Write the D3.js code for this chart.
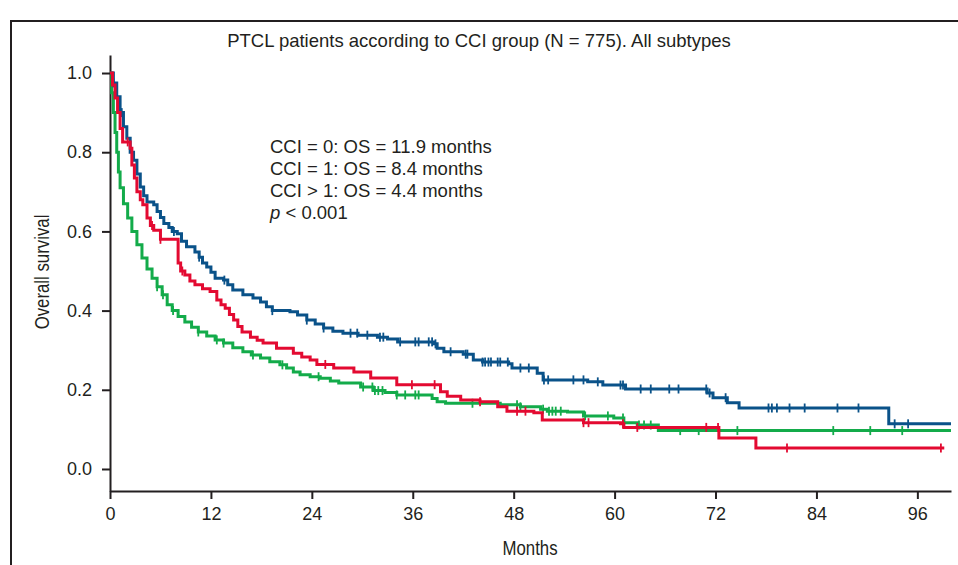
<!DOCTYPE html>
<html>
<head>
<meta charset="utf-8">
<script src="https://cdn.jsdelivr.net/npm/d3@7"></script>
<style>
  body { margin: 0; background: #fff; }
  svg { display: block; }
</style>
</head>
<body>
<div id="chart"></div>
<script>
// Kaplan-Meier steps: [month, survival]
var cci0 = [[0,1.0],[0.4,0.975],[0.8,0.94],[1.2,0.90],[1.6,0.864],[2.0,0.835],[2.4,0.80],[2.8,0.78],
  [3.2,0.745],[3.6,0.712],[4.0,0.69],[4.4,0.674],[5.2,0.667],[5.6,0.65],[6.0,0.635],[6.4,0.62],
  [7.0,0.61],[7.4,0.60],[8.0,0.594],[8.5,0.575],[9.1,0.561],[10.1,0.548],[10.6,0.535],[11.0,0.52],
  [11.5,0.51],[12.0,0.497],[12.5,0.482],[13.5,0.477],[14.0,0.465],[14.6,0.452],[15.8,0.44],
  [17.0,0.432],[17.9,0.422],[18.6,0.41],[19.3,0.40],[21.4,0.397],[22.3,0.389],[23.4,0.376],
  [24.4,0.366],[25.4,0.356],[26.5,0.348],[27.7,0.343],[29.5,0.338],[31.8,0.333],[33.0,0.328],
  [34.2,0.321],[38.5,0.316],[38.9,0.305],[39.7,0.296],[42.0,0.29],[43.2,0.275],[44.3,0.27],
  [47.4,0.266],[47.8,0.255],[50.8,0.242],[51.5,0.225],[56.8,0.22],[58.6,0.212],[61.3,0.202],
  [71.0,0.192],[71.7,0.18],[73.4,0.167],[74.8,0.154],[92.6,0.114],[100,0.114]];
var cci1 = [[0,1.0],[0.3,0.97],[0.6,0.937],[0.9,0.90],[1.2,0.86],[1.5,0.826],[2.4,0.81],[2.6,0.768],
  [2.9,0.735],[3.2,0.70],[3.6,0.68],[3.9,0.667],[4.4,0.634],[4.8,0.615],[5.2,0.603],[6.0,0.58],
  [8.1,0.52],[8.4,0.50],[8.9,0.49],[9.5,0.475],[10.1,0.465],[11.0,0.455],[11.9,0.448],[12.7,0.427],
  [13.2,0.415],[13.7,0.406],[14.2,0.39],[14.7,0.376],[15.2,0.36],[15.7,0.346],[16.7,0.333],
  [17.5,0.325],[18.2,0.318],[19.8,0.305],[21.8,0.292],[22.8,0.283],[23.8,0.275],[24.6,0.264],
  [26.6,0.255],[29.0,0.245],[31.0,0.23],[34.1,0.213],[39.3,0.195],[40.1,0.184],[41.7,0.174],
  [44.0,0.17],[46.1,0.157],[47.2,0.146],[50.4,0.142],[51.4,0.124],[56.3,0.117],[60.7,0.114],
  [61.1,0.105],[72.4,0.078],[76.8,0.053],[99.2,0.053]];
var cci2 = [[0,1.0],[0.2,0.95],[0.4,0.90],[0.6,0.85],[0.8,0.80],[1.0,0.75],[1.2,0.71],[1.6,0.67],
  [2.1,0.634],[2.6,0.60],[3.2,0.566],[3.8,0.533],[4.4,0.505],[5.0,0.482],[5.6,0.46],[6.2,0.44],
  [6.8,0.415],[7.4,0.40],[8.1,0.385],[8.9,0.371],[9.7,0.358],[10.5,0.346],[11.5,0.336],[12.5,0.326],
  [13.5,0.318],[14.6,0.306],[15.8,0.296],[16.8,0.288],[17.9,0.28],[19.0,0.271],[20.2,0.263],
  [21.0,0.255],[21.8,0.245],[22.6,0.238],[23.8,0.233],[25.0,0.229],[26.2,0.222],[27.2,0.217],
  [29.8,0.207],[31.3,0.198],[32.7,0.193],[34.1,0.187],[38.3,0.178],[38.9,0.17],[39.9,0.166],
  [46.4,0.162],[48.8,0.157],[51.2,0.151],[52.0,0.146],[54.4,0.144],[56.3,0.134],[59.9,0.129],
  [61.1,0.117],[62.7,0.111],[65.2,0.097],[100,0.097]];

// censored observations (months)
var cens0 = [0.4,1.4,7.6,10.6,13.6,19.3,23.4,25.4,28.6,29.4,30.6,32.1,32.5,34.5,36.3,36.7,37.9,38.3,
  38.7,40.5,42.3,42.5,44.3,44.6,45.0,45.3,46.1,46.4,47.3,48.8,49.8,51.6,52.1,55.1,56.3,58.0,60.7,
  61.0,63.1,64.3,66.5,67.6,70.9,71.3,73.2,78.3,78.7,79.3,80.8,82.6,86.5,89.0,93.3,94.9];
var cens1 = [2.1,5.0,6.0,8.6,25.6,35.9,38.6,44.0,48.4,49.4,56.3,56.9,61.0,62.7,70.9,72.3,80.5,98.8];
var cens2 = [5.6,6.3,7.5,10.5,12.7,13.5,17.0,20.5,24.8,30.1,31.2,31.5,31.9,32.4,34.1,35.1,36.3,36.7,
  43.1,48.4,48.8,51.5,52.2,52.6,53.0,53.6,56.5,59.2,61.0,62.9,63.5,64.3,67.8,70.0,74.6,86.0,90.4,94.2];

var xTicks = [0,12,24,36,48,60,72,84,96];
var yTicks = [0,0.2,0.4,0.6,0.8,1.0];
var notes = ["CCI = 0: OS = 11.9 months", "CCI = 1: OS = 8.4 months", "CCI > 1: OS = 4.4 months"];

var width = 958, height = 565;

var svg = d3.select("#chart").append("svg")
  .attr("width", width)
  .attr("height", height)
  .style("font-family", "'Liberation Sans', Arial, sans-serif");

// outer frame (runs off right and bottom edge)
svg.append("rect")
  .attr("x", 11).attr("y", 21)
  .attr("width", 960).attr("height", 560)
  .attr("fill", "none")
  .attr("stroke", "#231f20")
  .attr("stroke-width", 2);

svg.append("text")
  .attr("x", 479).attr("y", 47)
  .attr("text-anchor", "middle")
  .attr("font-size", 18.5)
  .attr("fill", "#231f20")
  .text("PTCL patients according to CCI group (N = 775). All subtypes");

var x = d3.scaleLinear().domain([0, 100]).range([110, 951]);
var y = d3.scaleLinear().domain([-0.0556, 1.0455]).range([491, 55]);

var xAxis = svg.append("g")
  .attr("transform", "translate(0,491)")
  .call(d3.axisBottom(x).tickValues(xTicks).tickSize(8).tickSizeOuter(0).tickPadding(8));

var yAxis = svg.append("g")
  .attr("transform", "translate(110,0)")
  .call(d3.axisLeft(y).tickValues(yTicks).tickFormat(d3.format(".1f")).tickSize(8).tickSizeOuter(0).tickPadding(10));

[xAxis, yAxis].forEach(function(g) {
  g.selectAll("path, line").attr("stroke", "#231f20").attr("stroke-width", 2);
  g.selectAll("text").attr("font-size", 18).attr("fill", "#231f20")
    .style("font-family", "'Liberation Sans', Arial, sans-serif");
});

// condensed axis titles: squeeze regular sans horizontally
svg.append("text")
  .attr("transform", "translate(530,555) scale(0.8,1)")
  .attr("text-anchor", "middle")
  .attr("font-size", 21)
  .attr("fill", "#231f20")
  .text("Months");

svg.append("text")
  .attr("transform", "translate(49,272) rotate(-90) scale(0.8,1)")
  .attr("text-anchor", "middle")
  .attr("font-size", 21)
  .attr("fill", "#231f20")
  .text("Overall survival");

// annotation
var note = svg.append("g").attr("font-size", 18.5).attr("fill", "#231f20");
notes.forEach(function(t, i) {
  note.append("text").attr("x", 270).attr("y", 153 + i * 22).text(t);
});
var pt = note.append("text").attr("x", 270).attr("y", 219);
pt.append("tspan").attr("font-style", "italic").text("p");
pt.append("tspan").text(" < 0.001");

// curves
var groups = [
  {steps: cci2, cens: cens2, color: "#13ab4a"},
  {steps: cci0, cens: cens0, color: "#0a5289"},
  {steps: cci1, cens: cens1, color: "#e30a31"}
];

var line = d3.line()
  .x(function(d) { return x(d[0]); })
  .y(function(d) { return y(d[1]); })
  .curve(d3.curveStepAfter);

function survAt(steps, t) {
  var s = steps[0][1];
  steps.forEach(function(d) { if (d[0] <= t) s = d[1]; });
  return s;
}

groups.forEach(function(g) {
  svg.append("path")
    .datum(g.steps)
    .attr("d", line)
    .attr("fill", "none")
    .attr("stroke", g.color)
    .attr("stroke-width", 3)
    .attr("stroke-linejoin", "miter");

  svg.append("g").selectAll("line")
    .data(g.cens)
    .enter().append("line")
      .attr("x1", function(d) { return x(d); })
      .attr("x2", function(d) { return x(d); })
      .attr("y1", function(d) { return y(survAt(g.steps, d)) - 4.5; })
      .attr("y2", function(d) { return y(survAt(g.steps, d)) + 4.5; })
      .attr("stroke", g.color)
      .attr("stroke-width", 1.8);
});
</script>
</body>
</html>
